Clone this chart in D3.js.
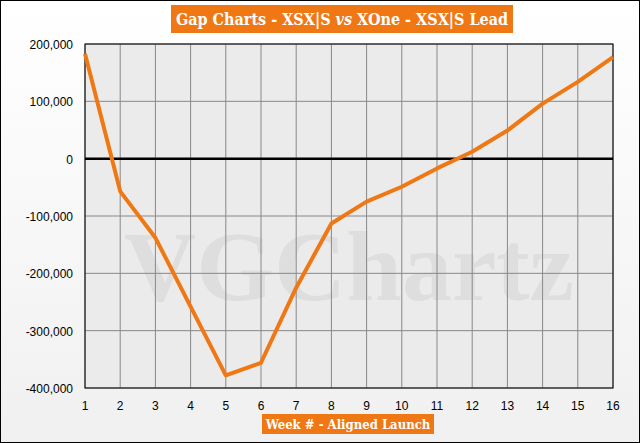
<!DOCTYPE html><html><head><meta charset="utf-8"><script src="https://cdn.jsdelivr.net/npm/d3@7"></script>
<style>body{margin:0}</style></head><body><script>
const weeks=[1,2,3,4,5,6,7,8,9,10,11,12,13,14,15,16];
const lead=[183000,-57000,-138000,-258000,-378000,-356000,-225000,-113000,-75000,-49000,-17000,12000,49000,96000,134000,177000];
const yTicks=[200000,100000,0,-100000,-200000,-300000,-400000];
const titleParts=["Gap Charts - XSX|S ","vs"," XOne - XSX|S Lead"];
const xTitle="Week # - Aligned Launch";
const W=640,H=443,L=85,R=613,T=44,B=388;
const svg=d3.select("body").append("svg").attr("width",W).attr("height",H);
const g=svg.append("defs").append("linearGradient").attr("id","bg").attr("x1",0).attr("y1",0).attr("x2",0).attr("y2",1);
g.append("stop").attr("offset",0).attr("stop-color","#ffffff");g.append("stop").attr("offset",1).attr("stop-color","#f0f0f0");
svg.append("rect").attr("x",0.5).attr("y",0.5).attr("width",W-1).attr("height",H-1).attr("fill","url(#bg)").attr("stroke","#000");
const x=d3.scaleLinear().domain([1,16]).range([L,R]);
const y=d3.scaleLinear().domain([-400000,200000]).range([B,T]);
svg.append("rect").attr("x",L).attr("y",T).attr("width",R-L).attr("height",B-T).attr("fill","#ebebeb");
svg.append("text").attr("x",(L+R)/2).attr("y",300).attr("text-anchor","middle").attr("font-family","Liberation Serif").attr("font-weight","bold").attr("font-size",100).attr("fill","#dedede").text("VGChartz");
svg.append("g").selectAll("line").data(weeks).join("line").attr("x1",d=>x(d)).attr("x2",d=>x(d)).attr("y1",T).attr("y2",B).attr("stroke","#888");
svg.append("g").selectAll("line").data(yTicks).join("line").attr("x1",L).attr("x2",R).attr("y1",d=>y(d)).attr("y2",d=>y(d)).attr("stroke","#888");
svg.append("line").attr("x1",L).attr("x2",R).attr("y1",y(0)).attr("y2",y(0)).attr("stroke","#000").attr("stroke-width",2.5);
svg.append("rect").attr("x",L).attr("y",T).attr("width",R-L).attr("height",B-T).attr("fill","none").attr("stroke","#000");
const f=v=>(v<0?"-":"")+d3.format(",")(Math.abs(v));
svg.append("g").selectAll("text").data(yTicks).join("text").attr("x",L-12).attr("y",d=>y(d)+5).attr("text-anchor","end").attr("font-family","Liberation Sans").attr("font-size",12).text(d=>f(d));
svg.append("g").selectAll("text").data(weeks).join("text").attr("x",d=>x(d)).attr("y",B+22).attr("text-anchor","middle").attr("font-family","Liberation Sans").attr("font-size",12).text(d=>d);
svg.append("path").datum(weeks.map((w,i)=>[w,lead[i]])).attr("d",d3.line().x(d=>x(d[0])).y(d=>y(d[1]))).attr("fill","none").attr("stroke","#f07814").attr("stroke-width",4).attr("stroke-linejoin","round");
function box(cx,cy,w,h,parts,fs){svg.append("rect").attr("x",cx-w/2).attr("y",cy-h/2).attr("width",w).attr("height",h).attr("fill","#f07814");
const t=svg.append("text").attr("x",cx).attr("y",cy+fs*0.35).attr("text-anchor","middle").attr("font-family","DejaVu Serif Condensed, DejaVu Serif").attr("font-weight","bold").attr("font-size",fs).attr("fill","#fff");
parts.forEach((p,i)=>t.append("tspan").attr("font-style",i==1?"italic":"normal").text(p));}
box(342,19,342,28,titleParts,16);
box(348,424,172,20,[xTitle],13);
</script></body></html>
